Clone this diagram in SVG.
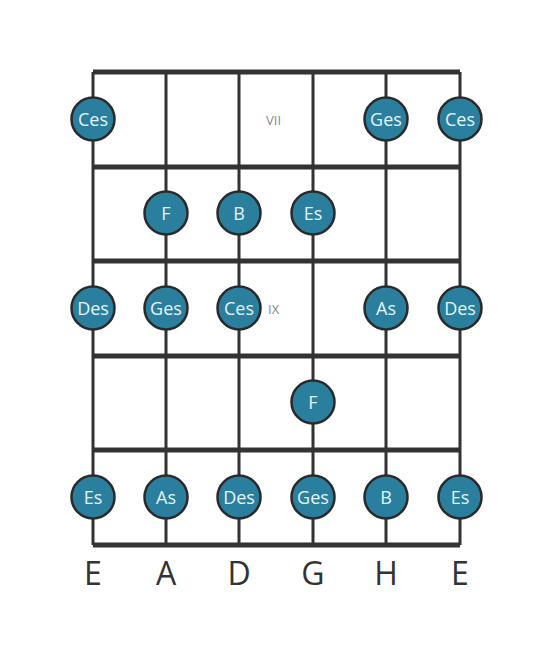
<svg xmlns="http://www.w3.org/2000/svg" width="553" height="656" viewBox="0 0 553 656">
<style>
.s{stroke:#333;stroke-width:3;fill:none}
.f{stroke:#333;stroke-width:5;fill:none}
.n circle{fill:#2a7f9e;stroke:#2a2a2a;stroke-width:2.5}
.n text{fill:#e3f4f8;font-family:"Open Sans",sans-serif;font-size:18px;text-anchor:middle;dominant-baseline:central}
.m{fill:#888;font-family:"Open Sans",sans-serif;font-size:13px;dominant-baseline:central}
.l{fill:#333;font-family:"Open Sans",sans-serif;font-size:32px;text-anchor:middle}
</style>
<rect width="553" height="656" fill="#fff"/>
<g id="board">
<path class="s" d="M93 72V545M166 72V545M239 72V545M313 72V545M386 72V545M460 72V545"/>
<path class="f" d="M93 72H460M93 167H460M93 261H460M93 356H460M93 450H460M93 545H460"/>
</g>
<text class="m" x="266" y="120">VII</text>
<text class="m" x="268" y="309">IX</text>
<g id="n1" class="n"><circle cx="93" cy="119" r="21.5"/><text x="93" y="119">Ces</text></g>
<g id="n2" class="n"><circle cx="386" cy="119" r="21.5"/><text x="386" y="119">Ges</text></g>
<g id="n3" class="n"><circle cx="460" cy="119" r="21.5"/><text x="460" y="119">Ces</text></g>
<g id="n4" class="n"><circle cx="166" cy="213" r="21.5"/><text x="166" y="213">F</text></g>
<g id="n5" class="n"><circle cx="239" cy="213" r="21.5"/><text x="239" y="213">B</text></g>
<g id="n6" class="n"><circle cx="313" cy="213" r="21.5"/><text x="313" y="213">Es</text></g>
<g id="n7" class="n"><circle cx="93" cy="308" r="21.5"/><text x="93" y="308">Des</text></g>
<g id="n8" class="n"><circle cx="166" cy="308" r="21.5"/><text x="166" y="308">Ges</text></g>
<g id="n9" class="n"><circle cx="239" cy="308" r="21.5"/><text x="239" y="308">Ces</text></g>
<g id="n10" class="n"><circle cx="386" cy="308" r="21.5"/><text x="386" y="308">As</text></g>
<g id="n11" class="n"><circle cx="460" cy="308" r="21.5"/><text x="460" y="308">Des</text></g>
<g id="n12" class="n"><circle cx="313" cy="402" r="21.5"/><text x="313" y="402">F</text></g>
<g id="n13" class="n"><circle cx="93" cy="497" r="21.5"/><text x="93" y="497">Es</text></g>
<g id="n14" class="n"><circle cx="166" cy="497" r="21.5"/><text x="166" y="497">As</text></g>
<g id="n15" class="n"><circle cx="239" cy="497" r="21.5"/><text x="239" y="497">Des</text></g>
<g id="n16" class="n"><circle cx="313" cy="497" r="21.5"/><text x="313" y="497">Ges</text></g>
<g id="n17" class="n"><circle cx="386" cy="497" r="21.5"/><text x="386" y="497">B</text></g>
<g id="n18" class="n"><circle cx="460" cy="497" r="21.5"/><text x="460" y="497">Es</text></g>
<g id="labels">
<text class="l" x="93" y="585">E</text>
<text class="l" x="166" y="585">A</text>
<text class="l" x="239" y="585">D</text>
<text class="l" x="313" y="585">G</text>
<text class="l" x="386" y="585">H</text>
<text class="l" x="460" y="585">E</text>
</g>
</svg>
